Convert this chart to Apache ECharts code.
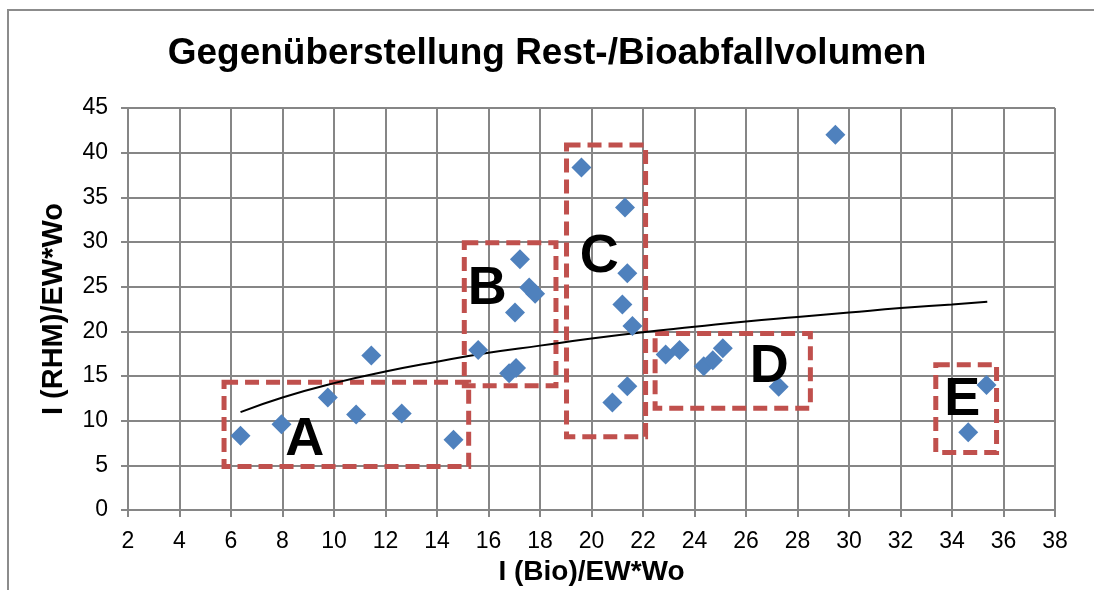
<!DOCTYPE html>
<html>
<head>
<meta charset="utf-8">
<script src="https://cdn.jsdelivr.net/npm/echarts@6/dist/echarts.min.js"></script>
<style>
  html, body { margin: 0; padding: 0; background: #fff; }
  #chart { width: 1094px; height: 590px; }
</style>
</head>
<body>
<div id="chart"></div>
<script>
// measured values (Bio, RHM)
var bioValues = [6.37, 7.96, 9.76, 10.86, 11.45, 12.63, 14.64,
                 15.6, 16.8, 17.07, 17.03, 17.22, 17.58, 17.81,
                 19.61, 20.81, 21.2, 21.3, 21.39, 21.39, 21.59,
                 22.88, 23.42, 24.36, 24.71, 25.1, 27.27,
                 29.47, 34.63, 35.34];
var rhmValues = [8.3, 9.6, 12.6, 10.7, 17.3, 10.8, 7.86,
                 17.9, 15.3, 15.9, 22.1, 28.06, 24.9, 24.2,
                 38.35, 12.04, 23.0, 33.86, 26.5, 13.84, 20.6,
                 17.4, 17.9, 16.1, 16.76, 18.1, 13.8,
                 42.0, 8.7, 14.0];

// trend line
var trendX = [6.37, 8, 10, 12, 14, 16, 18, 20, 22, 24, 26, 28, 30, 32, 34, 35.37];
var trendY = [10.96, 12.6, 14.2, 15.5, 16.6, 17.6, 18.4, 19.2, 19.9, 20.5, 21.1, 21.6, 22.1, 22.6, 23.0, 23.3];

// group boxes and label positions
var groupNames = ['A', 'B', 'C', 'D', 'E'];
var boxX1 = [5.73, 15.06, 19.03, 22.47, 33.37];
var boxX2 = [15.23, 18.62, 22.1, 28.5, 35.73];
var boxY1 = [4.86, 13.92, 8.2, 11.4, 6.43];
var boxY2 = [14.29, 29.93, 40.85, 19.75, 16.27];
var labelX = [8.86, 15.95, 20.3, 26.9, 34.4];
var labelY = [7.86, 24.7, 28.3, 16.05, 12.35];

function pairs(xs, ys) {
    var out = [];
    for (var i = 0; i < xs.length; i++) {
        out.push([xs[i], ys[i]]);
    }
    return out;
}

var boxes = [];
for (var i = 0; i < groupNames.length; i++) {
    boxes.push([{coord: [boxX1[i], boxY2[i]]}, {coord: [boxX2[i], boxY1[i]]}]);
}
var letters = [];
for (var j = 0; j < groupNames.length; j++) {
    letters.push({value: [labelX[j], labelY[j]], name: groupNames[j]});
}

var font = 'Liberation Sans, Arial, sans-serif';
var gridColor = '#868686';

var chart = echarts.init(document.getElementById('chart'));
chart.setOption({
    animation: false,
    graphic: [{
        type: 'rect',
        shape: {x: 8, y: 10, width: 1200, height: 700},
        style: {fill: 'none', stroke: '#8c8c8c', lineWidth: 2},
        silent: true
    }],
    title: {
        text: 'Gegenüberstellung Rest-/Bioabfallvolumen',
        left: 'center', top: 30,
        textStyle: {fontFamily: font, fontSize: 37, fontWeight: 'bold', color: '#000'}
    },
    grid: {left: 128, right: 39, top: 108, bottom: 80, outerBoundsMode: 'none', containLabel: false},
    xAxis: {
        type: 'value', min: 2, max: 38, interval: 2,
        name: 'I (Bio)/EW*Wo', nameLocation: 'middle', nameGap: 46,
        nameTextStyle: {fontFamily: font, fontSize: 28, fontWeight: 'bold', color: '#000'},
        axisLine: {lineStyle: {color: gridColor, width: 2}},
        axisTick: {show: true, length: 7, lineStyle: {color: gridColor, width: 2}},
        axisLabel: {fontFamily: font, fontSize: 23, color: '#000', margin: 20},
        splitLine: {show: true, lineStyle: {color: gridColor, width: 2}}
    },
    yAxis: {
        type: 'value', min: 0, max: 45, interval: 5,
        name: 'I (RHM)/EW*Wo', nameLocation: 'middle', nameGap: 60,
        nameTextStyle: {fontFamily: font, fontSize: 29, fontWeight: 'bold', color: '#000'},
        axisLine: {show: true, lineStyle: {color: gridColor, width: 2}},
        axisTick: {show: true, length: 7, lineStyle: {color: gridColor, width: 2}},
        axisLabel: {fontFamily: font, fontSize: 23, color: '#000', margin: 20},
        splitLine: {show: true, lineStyle: {color: gridColor, width: 2}}
    },
    series: [{
        name: 'Trend',
        type: 'line',
        data: pairs(trendX, trendY),
        smooth: true,
        showSymbol: false,
        lineStyle: {color: '#000', width: 2},
        z: 3
    }, {
        name: 'Gruppen',
        type: 'scatter',
        data: [],
        markArea: {
            silent: true,
            itemStyle: {color: 'rgba(0,0,0,0)', borderColor: '#c0504d', borderWidth: 5, borderType: [14, 7]},
            data: boxes
        },
        z: 4
    }, {
        name: 'Messwerte',
        type: 'scatter',
        symbol: 'diamond',
        symbolSize: 20,
        itemStyle: {color: '#4f81bd', opacity: 1},
        data: pairs(bioValues, rhmValues),
        z: 5
    }, {
        name: 'Labels',
        type: 'scatter',
        symbolSize: 0,
        itemStyle: {color: '#000', opacity: 1},
        data: letters,
        label: {
            show: true, position: 'inside',
            formatter: '{b}',
            fontFamily: font, fontSize: 54, fontWeight: 'bold', color: '#000',
            textBorderWidth: 0
        },
        z: 6
    }]
});
</script>
</body>
</html>
